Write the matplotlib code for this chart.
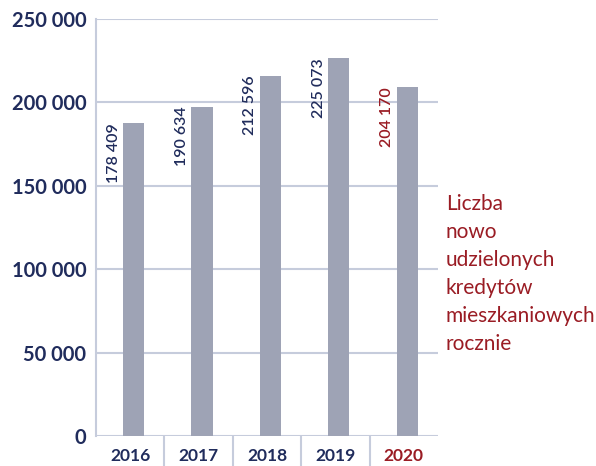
import matplotlib.pyplot as plt

# Dane
years = ['2016', '2017', '2018', '2019', '2020']
bar_heights = [187400, 197500, 216000, 226300, 208900]
value_labels = ['178 409', '190 634', '212 596', '225 073', '204 170']
yticks = [0, 50000, 100000, 150000, 200000, 250000]
ytick_labels = ['0', '50 000', '100 000', '150 000', '200 000', '250 000']
legend_text = 'Liczba\nnowo\nudzielonych\nkredytów\nmieszkaniowych\nrocznie'

navy = '#202c5c'
red = '#9a1c24'
grid_col = '#c6ccdc'
bar_col = '#9ea3b5'

plt.rcParams['font.family'] = ['Lato', 'DejaVu Sans']

fig = plt.figure(figsize=(5.96, 4.66), dpi=100)
ax = fig.add_axes([0.161, 0.0644, 0.574, 0.895])

x = range(len(years))
xb = [i + 0.05 for i in x]
ax.bar(xb, bar_heights, width=0.31, color=bar_col, zorder=3)

# Etykiety wartości
for i in x:
    col = red if i == len(years) - 1 else navy
    ax.text(xb[i] - 0.19, bar_heights[i], value_labels[i], rotation=90,
            ha='right', va='top', color=col, fontsize=11.5, fontweight='semibold')

ax.set_xlim(-0.5, len(years) - 0.5)
ax.set_ylim(0, 250000)
ax.set_yticks(yticks)
ax.set_yticklabels(ytick_labels, fontsize=14.5, fontweight='bold', color=navy)
ax.set_xticks(list(x))
ax.set_xticklabels(years, fontsize=12.5, fontweight='bold')
for lab, i in zip(ax.get_xticklabels(), x):
    lab.set_color(red if i == len(years) - 1 else navy)

ax.tick_params(axis='y', length=0, pad=7)
ax.tick_params(axis='x', which='major', length=0, pad=9)
ax.set_xticks([i + 0.5 for i in range(len(years) - 1)], minor=True)
ax.tick_params(axis='x', which='minor', length=22, width=1.5, color=grid_col,
               direction='out')

ax.grid(axis='y', color=grid_col, linewidth=1.5, zorder=0)
for s in ['top', 'right', 'bottom']:
    ax.spines[s].set_visible(False)
ax.spines['left'].set_color(grid_col)
ax.spines['left'].set_linewidth(1.5)

# Legenda
fig.text(0.748, 1 - 194 / 466, legend_text, ha='left', va='top',
         fontsize=15, color=red, linespacing=1.5)

fig.savefig('out.png', dpi=100)
